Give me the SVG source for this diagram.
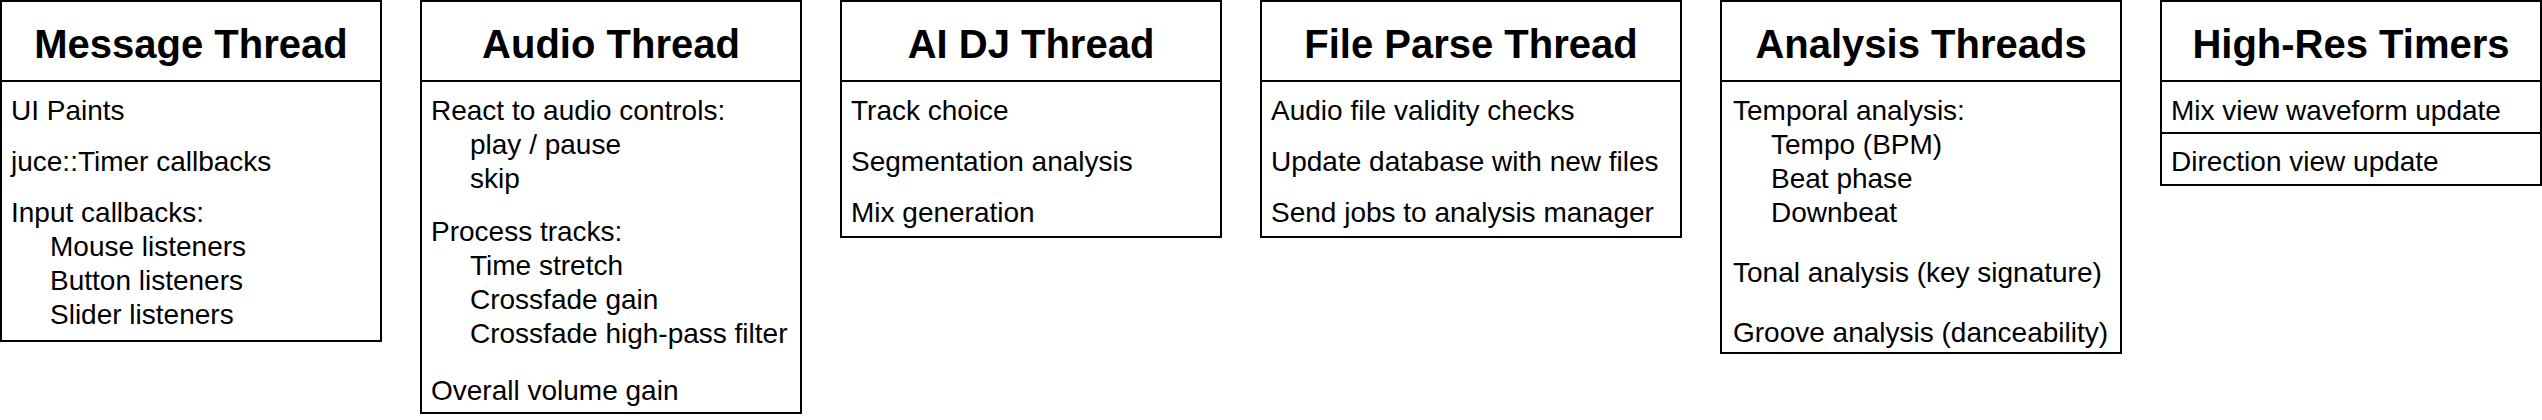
<svg xmlns="http://www.w3.org/2000/svg" width="2542" height="420" viewBox="0 0 2542 420">
<style>
  .box { fill: #ffffff; stroke: #000000; stroke-width: 2; }
  .sep { stroke: #000000; stroke-width: 2; fill: none; }
  .title { font-family: "Liberation Sans", Arial, Helvetica, sans-serif; font-size: 40px; font-weight: bold; fill: #000000; text-anchor: middle; }
  .item { font-family: "Liberation Sans", Arial, Helvetica, sans-serif; font-size: 28px; fill: #000000; white-space: pre; }
</style>
<rect x="0" y="0" width="2542" height="420" fill="#ffffff"/>

<g id="message-thread">
  <rect class="box" x="1" y="1" width="380" height="340"/>
  <line class="sep" x1="1" y1="81" x2="381" y2="81"/>
  <text class="title" x="191" y="58">Message Thread</text>
  <text class="item" x="11" y="120">UI Paints</text>
  <text class="item" x="11" y="171">juce::Timer callbacks</text>
  <text class="item" x="11" y="222">Input callbacks:</text>
  <text class="item" x="50" y="256">Mouse listeners</text>
  <text class="item" x="50" y="290">Button listeners</text>
  <text class="item" x="50" y="324">Slider listeners</text>
</g>

<g id="audio-thread">
  <rect class="box" x="421" y="1" width="380" height="412"/>
  <line class="sep" x1="421" y1="81" x2="801" y2="81"/>
  <text class="title" x="611" y="58">Audio Thread</text>
  <text class="item" x="431" y="119.5">React to audio controls:</text>
  <text class="item" x="470" y="153.5">play / pause</text>
  <text class="item" x="470" y="187.5">skip</text>
  <text class="item" x="431" y="240.5">Process tracks:</text>
  <text class="item" x="470" y="274.5">Time stretch</text>
  <text class="item" x="470" y="308.5">Crossfade gain</text>
  <text class="item" x="470" y="342.5">Crossfade high-pass filter</text>
  <text class="item" x="431" y="400">Overall volume gain</text>
</g>

<g id="ai-dj-thread">
  <rect class="box" x="841" y="1" width="380" height="236"/>
  <line class="sep" x1="841" y1="81" x2="1221" y2="81"/>
  <text class="title" x="1031" y="58">AI DJ Thread</text>
  <text class="item" x="851" y="119.5">Track choice</text>
  <text class="item" x="851" y="171">Segmentation analysis</text>
  <text class="item" x="851" y="222">Mix generation</text>
</g>

<g id="file-parse-thread">
  <rect class="box" x="1261" y="1" width="420" height="236"/>
  <line class="sep" x1="1261" y1="81" x2="1681" y2="81"/>
  <text class="title" x="1471" y="58">File Parse Thread</text>
  <text class="item" x="1271" y="119.5">Audio file validity checks</text>
  <text class="item" x="1271" y="171">Update database with new files</text>
  <text class="item" x="1271" y="222">Send jobs to analysis manager</text>
</g>

<g id="analysis-threads">
  <rect class="box" x="1721" y="1" width="400" height="352"/>
  <line class="sep" x1="1721" y1="81" x2="2121" y2="81"/>
  <text class="title" x="1921" y="58">Analysis Threads</text>
  <text class="item" x="1733" y="119.5">Temporal analysis:</text>
  <text class="item" x="1771" y="153.5">Tempo (BPM)</text>
  <text class="item" x="1771" y="187.5">Beat phase</text>
  <text class="item" x="1771" y="221.5">Downbeat</text>
  <text class="item" x="1733" y="281.5">Tonal analysis (key signature)</text>
  <text class="item" x="1733" y="341.5">Groove analysis (danceability)</text>
</g>

<g id="high-res-timers">
  <rect class="box" x="2161" y="1" width="380" height="184"/>
  <line class="sep" x1="2161" y1="81" x2="2541" y2="81"/>
  <line class="sep" x1="2161" y1="133" x2="2541" y2="133"/>
  <text class="title" x="2351" y="58">High-Res Timers</text>
  <text class="item" x="2171" y="119.5">Mix view waveform update</text>
  <text class="item" x="2171" y="171">Direction view update</text>
</g>
</svg>
